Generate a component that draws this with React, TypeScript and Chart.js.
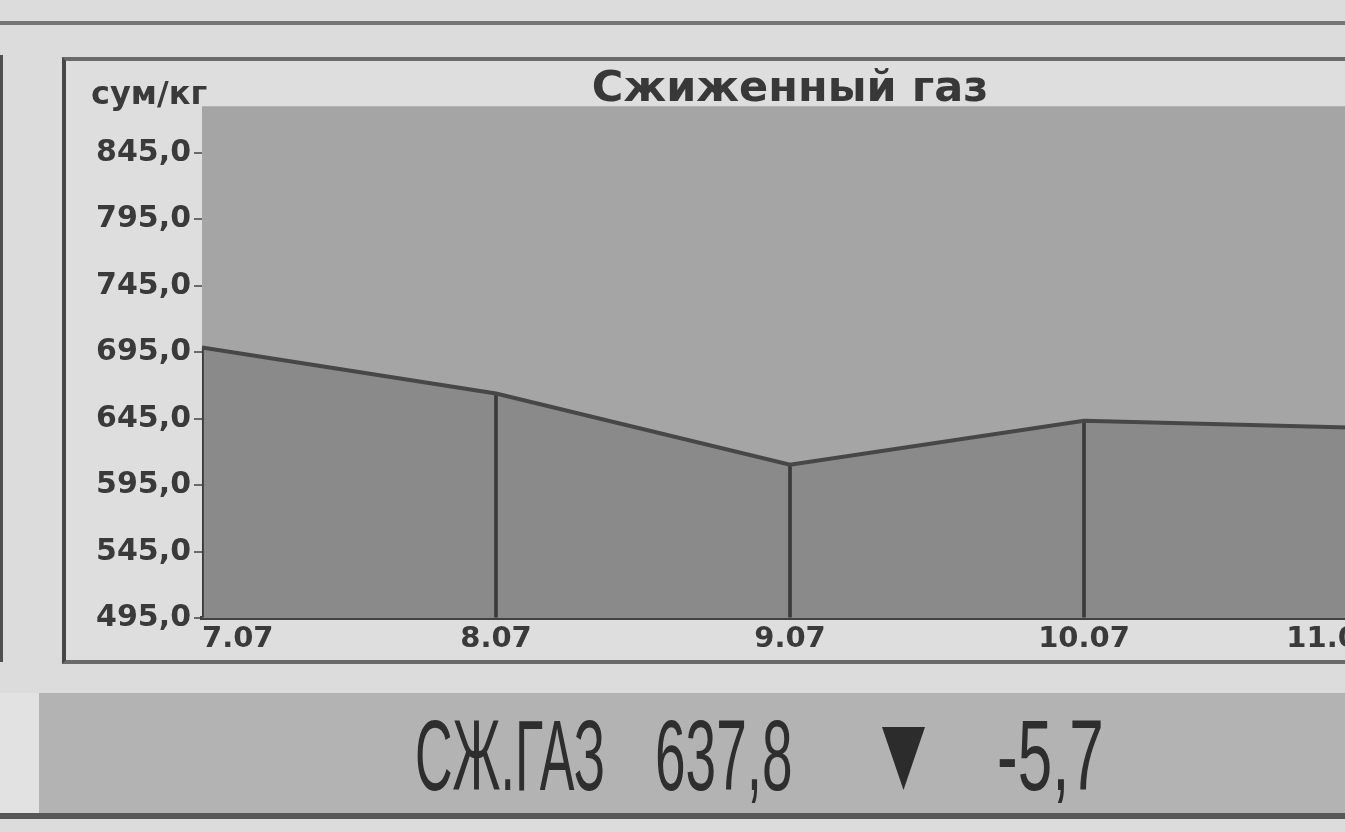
import React, { useEffect, useRef } from "react";
import { Chart, registerables } from "chart.js";

Chart.register(...registerables);

// ---- data ----
const categories = ["7.07", "8.07", "9.07", "10.07", "11.07"];
const prices = [698.5, 664, 610.5, 643.5, 637.8];
const yTicks = [495, 545, 595, 645, 695, 745, 795, 845];
const yMin = 495;
const yMax = 880;
const chartTitle = "Сжиженный газ";
const unitLabel = "сум/кг";
const tickerName = "СЖ.ГАЗ";
const lastPrice = "637,8";
const changeValue = "-5,7";

const plotBgPlugin = {
  id: "plotBg",
  beforeDraw(chart: any) {
    const { ctx, chartArea: a } = chart;
    if (!a) return;
    ctx.save();
    ctx.fillStyle = "#a5a5a5";
    ctx.fillRect(a.left, a.top, a.right - a.left, a.bottom - a.top);
    ctx.restore();
  },
};

const yLabelFont = { family: "'DejaVu Sans', sans-serif", weight: "bold" as const, size: 30 };
const xLabelFont = { family: "'DejaVu Sans', sans-serif", weight: "bold" as const, size: 29 };

export default function App() {
  const ref = useRef<HTMLCanvasElement>(null);

  useEffect(() => {
    if (!ref.current) return;
    const chart = new Chart(ref.current, {
      type: "line",
      data: {
        labels: categories,
        datasets: [
          {
            type: "line",
            data: prices,
            borderColor: "#474747",
            borderWidth: 4,
            backgroundColor: "#8a8a8a",
            fill: "start",
            pointRadius: 0,
            tension: 0,
            order: 0,
          } as any,
          {
            type: "bar",
            data: prices,
            backgroundColor: "#3a3a3a",
            barThickness: 3,
            base: yMin,
            clip: 0,
            order: 1,
          } as any,
        ],
      },
      options: {
        responsive: false,
        animation: false,
        devicePixelRatio: 1,
        layout: { padding: { top: 13, right: 20, bottom: 0, left: 0 } },
        plugins: {
          legend: { display: false },
          tooltip: { enabled: false },
          filler: { drawTime: "beforeDatasetsDraw" } as any,
          title: {
            display: true,
            text: chartTitle,
            fullSize: false,
            color: "#383838",
            padding: 0,
            font: { family: "'DejaVu Sans', sans-serif", weight: "bold", size: 43, lineHeight: 0.75 },
          },
        },
        scales: {
          x: {
            type: "category",
            offset: false,
            grid: { display: false, drawTicks: false },
            border: { display: true, color: "#404040", width: 4 },
            ticks: {
              align: "inner",
              padding: 4,
              color: "#3a3a3a",
              font: xLabelFont,
              maxRotation: 0,
              autoSkip: false,
            },
          },
          y: {
            type: "linear",
            min: yMin,
            max: yMax,
            afterBuildTicks: (scale: any) => {
              scale.ticks = yTicks.map((v) => ({ value: v }));
            },
            afterFit: (scale: any) => {
              scale.width = 136;
            },
            grid: {
              display: true,
              drawOnChartArea: false,
              drawTicks: true,
              tickLength: 8,
              color: "#6a6a6a",
              lineWidth: 2,
            },
            border: { display: false },
            ticks: {
              padding: 3,
              color: "#3a3a3a",
              font: yLabelFont,
              callback: (v: any) => Number(v).toFixed(1).replace(".", ","),
            },
          },
        },
      },
      plugins: [plotBgPlugin],
    });
    return () => chart.destroy();
  }, []);

  const bannerText = (text: string, left: number, scale: number) => (
    <span
      style={{
        position: "absolute",
        left,
        top: 705,
        fontFamily: "'Liberation Sans', Arial, sans-serif",
        fontSize: 100,
        lineHeight: 1,
        color: "#2e2e2e",
        whiteSpace: "nowrap",
        transform: `scaleX(${scale})`,
        transformOrigin: "left top",
      }}
    >
      {text}
    </span>
  );

  return (
    <div
      style={{
        position: "absolute",
        left: 0,
        top: 0,
        width: 1345,
        height: 832,
        overflow: "hidden",
        background: "#dcdcdc",
      }}
    >
      {/* top rule */}
      <div style={{ position: "absolute", left: 0, top: 21, width: 1345, height: 4, background: "#767676" }} />
      {/* neighbouring frame edge */}
      <div style={{ position: "absolute", left: 0, top: 55, width: 3, height: 607, background: "#505050" }} />
      {/* chart frame */}
      <div
        style={{
          position: "absolute",
          left: 62,
          top: 57,
          width: 1400,
          height: 599,
          borderTop: "4px solid #6a6a6a",
          borderBottom: "4px solid #6a6a6a",
          borderLeft: "4px solid #474747",
          background: "#dedede",
        }}
      />
      <canvas
        ref={ref}
        width={1332}
        height={600}
        style={{ position: "absolute", left: 66, top: 61, width: 1332, height: 600, display: "block" }}
      />
      <span
        style={{
          position: "absolute",
          left: 91,
          top: 77,
          fontFamily: "'DejaVu Sans', sans-serif",
          fontWeight: "bold",
          fontSize: 32,
          lineHeight: 1,
          color: "#3a3a3a",
          whiteSpace: "nowrap",
        }}
      >
        {unitLabel}
      </span>
      {/* banner */}
      <div style={{ position: "absolute", left: 0, top: 693, width: 39, height: 120, background: "#e2e2e2" }} />
      <div style={{ position: "absolute", left: 39, top: 693, width: 1306, height: 120, background: "#b3b3b3" }} />
      <div style={{ position: "absolute", left: 0, top: 813, width: 1345, height: 6, background: "#575757" }} />
      {bannerText(tickerName, 415, 0.52)}
      {bannerText(lastPrice, 655, 0.55)}
      <div
        style={{
          position: "absolute",
          left: 882,
          top: 727,
          width: 43,
          height: 63,
          background: "#2c2c2c",
          clipPath: "polygon(0 0, 100% 0, 50% 100%)",
        }}
      />
      {bannerText(changeValue, 997, 0.62)}
    </div>
  );
}
